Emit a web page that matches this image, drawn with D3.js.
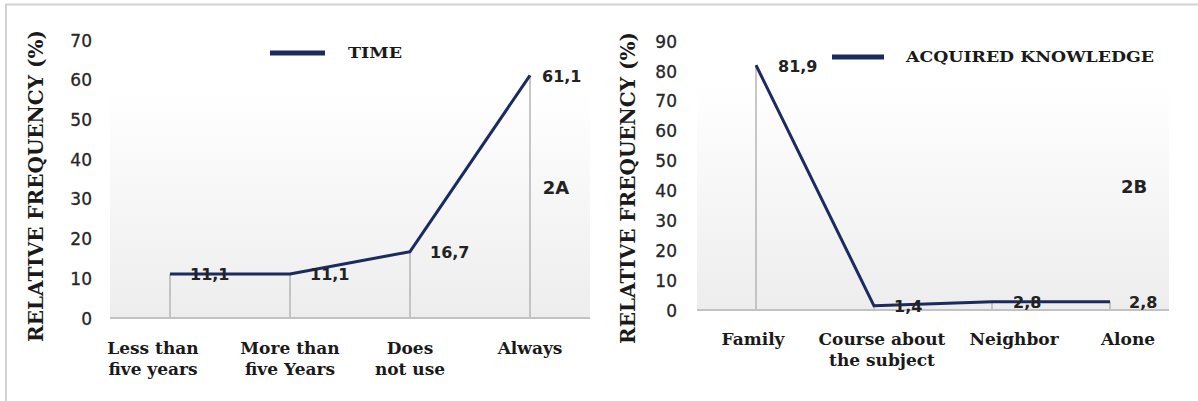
<!DOCTYPE html>
<html>
<head>
<meta charset="utf-8">
<script src="https://cdn.jsdelivr.net/npm/d3@7"></script>
<style>
  html, body { margin: 0; padding: 0; background: #fff; }
  svg { display: block; }
</style>
</head>
<body>
<svg id="chart" width="1198" height="401"></svg>
<script>
// ---- data ----
const timeCategories = ["Less than\nfive years", "More than\nfive Years", "Does\nnot use", "Always"];
const timeValues = [11.1, 11.1, 16.7, 61.1];
const timeTicks = [0, 10, 20, 30, 40, 50, 60, 70];

const knowledgeCategories = ["Family", "Course about\nthe subject", "Neighbor", "Alone"];
const knowledgeValues = [81.9, 1.4, 2.8, 2.8];
const knowledgeTicks = [0, 10, 20, 30, 40, 50, 60, 70, 80, 90];

const axisTitle = "RELATIVE FREQUENCY (%)";

// ---- layout for the two panels ----
const panels = [
  {
    key: "A", tag: "2A", series: "TIME",
    categories: timeCategories, values: timeValues, ticks: timeTicks,
    x0: 110, x1: 590, yTop: 40, yBase: 318, bgTop: 92,
    tickX: 92, titleX: 36, titleY: 186,
    legend: { x0: 270, x1: 325, y: 53, textX: 348, textLen: 54 },
    tagX: 556, tagY: 187,
    catLabelY: 348, catShift: [-17, 0, 0, 0],
    labelDx: [20, 20, 20, 12]
  },
  {
    key: "B", tag: "2B", series: "ACQUIRED KNOWLEDGE",
    categories: knowledgeCategories, values: knowledgeValues, ticks: knowledgeTicks,
    x0: 697, x1: 1169, yTop: 41, yBase: 310, bgTop: 85,
    tickX: 677, titleX: 628, titleY: 188,
    legend: { x0: 832, x1: 884, y: 57, textX: 906, textLen: 248 },
    tagX: 1134, tagY: 186,
    catLabelY: 339, catShift: [-3, 8, 22, 18],
    labelDx: [22, 20, 21, 19]
  }
];

const svg = d3.select("#chart");
const lineColor = "#1c2a5e";
const commaLocale = d3.formatLocale({ decimal: ",", thousands: ".", grouping: [3], currency: ["", ""] });
const fmt = commaLocale.format(".1f");

// plot-area gradient
const defs = svg.append("defs");
const grad = defs.append("linearGradient")
  .attr("id", "plotGrad").attr("x1", 0).attr("y1", 0).attr("x2", 0).attr("y2", 1);
grad.append("stop").attr("offset", "0%").attr("stop-color", "#ffffff");
grad.append("stop").attr("offset", "100%").attr("stop-color", "#ededed");

// outer frame (top and left edges)
svg.append("line").attr("x1", 5).attr("x2", 1198).attr("y1", 4.5).attr("y2", 4.5)
  .attr("stroke", "#d2d2d2").attr("stroke-width", 2);
svg.append("line").attr("x1", 6).attr("x2", 6).attr("y1", 4).attr("y2", 401)
  .attr("stroke", "#d2d2d2").attr("stroke-width", 2);

panels.forEach(p => {
  const g = svg.append("g").attr("class", "panel-" + p.key);

  const x = d3.scalePoint().domain(p.categories).range([p.x0, p.x1]).padding(0.5);
  const yMax = p.ticks[p.ticks.length - 1];
  const y = d3.scaleLinear().domain([0, yMax]).range([p.yBase, p.yTop]);

  // background
  g.append("rect")
    .attr("x", p.x0).attr("y", p.bgTop)
    .attr("width", p.x1 - p.x0).attr("height", y(0) - p.bgTop)
    .attr("fill", "url(#plotGrad)");

  // y axis labels
  const yAxis = d3.axisLeft(y).tickValues(p.ticks).tickSize(0).tickPadding(0).tickFormat(d3.format("d"));
  const ax = g.append("g").attr("transform", `translate(${p.tickX},0)`).call(yAxis);
  ax.select(".domain").remove();
  ax.selectAll("text")
    .attr("font-family", "DejaVu Sans, sans-serif")
    .attr("font-size", 17)
    .attr("fill", "#262626")
    .attr("stroke", "#262626")
    .attr("stroke-width", 0.3)
    .attr("dy", "0.36em");

  // axis title
  g.append("text")
    .attr("transform", `translate(${p.titleX},${p.titleY}) rotate(-90)`)
    .attr("text-anchor", "middle")
    .attr("dominant-baseline", "central")
    .attr("font-family", "DejaVu Serif, serif")
    .attr("font-weight", "bold")
    .attr("font-size", 20)
    .attr("fill", "#1a1a1a")
    .attr("textLength", 312)
    .attr("lengthAdjust", "spacingAndGlyphs")
    .text(axisTitle);

  // drop lines
  g.selectAll(".drop").data(p.values).join("line")
    .attr("class", "drop")
    .attr("x1", (d, i) => x(p.categories[i])).attr("x2", (d, i) => x(p.categories[i]))
    .attr("y1", d => y(d)).attr("y2", y(0))
    .attr("stroke", "#b5b5b5").attr("stroke-width", 1.5);

  // baseline
  g.append("line")
    .attr("x1", p.x0).attr("x2", p.x1).attr("y1", y(0)).attr("y2", y(0))
    .attr("stroke", "#c2c2c2").attr("stroke-width", 2);

  // series line
  const line = d3.line()
    .x((d, i) => x(p.categories[i]))
    .y(d => y(d));
  g.append("path").datum(p.values)
    .attr("d", line)
    .attr("fill", "none")
    .attr("stroke", lineColor)
    .attr("stroke-width", 3)
    .attr("stroke-linejoin", "round");

  // value labels
  g.selectAll(".val").data(p.values).join("text")
    .attr("class", "val")
    .attr("x", (d, i) => x(p.categories[i]) + p.labelDx[i])
    .attr("y", d => y(d) + 1)
    .attr("dominant-baseline", "central")
    .attr("font-family", "DejaVu Sans, sans-serif")
    .attr("font-weight", "bold")
    .attr("font-size", 16)
    .attr("fill", "#222")
    .text(d => fmt(d));

  // category labels
  p.categories.forEach((c, i) => {
    const t = g.append("text")
      .attr("text-anchor", "middle")
      .attr("font-family", "DejaVu Serif, serif")
      .attr("font-weight", "bold")
      .attr("font-size", 17)
      .attr("fill", "#1a1a1a");
    c.split("\n").forEach((ln, j) => {
      t.append("tspan")
        .attr("x", x(c) + p.catShift[i])
        .attr("y", p.catLabelY + j * 21)
        .attr("dominant-baseline", "central")
        .text(ln);
    });
  });

  // legend
  g.append("line")
    .attr("x1", p.legend.x0).attr("x2", p.legend.x1)
    .attr("y1", p.legend.y).attr("y2", p.legend.y)
    .attr("stroke", lineColor).attr("stroke-width", 5);
  g.append("text")
    .attr("x", p.legend.textX).attr("y", p.legend.y)
    .attr("dominant-baseline", "central")
    .attr("font-family", "DejaVu Serif, serif")
    .attr("font-weight", "bold")
    .attr("font-size", 15)
    .attr("fill", "#1a1a1a")
    .attr("textLength", p.legend.textLen)
    .attr("lengthAdjust", "spacingAndGlyphs")
    .text(p.series);

  // panel tag
  g.append("text")
    .attr("x", p.tagX).attr("y", p.tagY)
    .attr("text-anchor", "middle")
    .attr("dominant-baseline", "central")
    .attr("font-family", "DejaVu Sans, sans-serif")
    .attr("font-weight", "bold")
    .attr("font-size", 18)
    .attr("fill", "#222")
    .text(p.tag);
});
</script>
</body>
</html>
